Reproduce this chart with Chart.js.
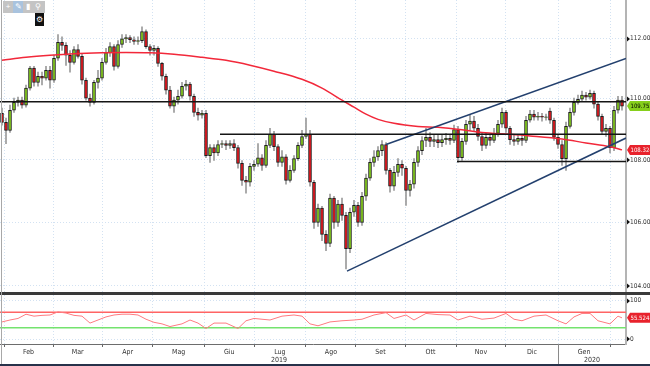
<!DOCTYPE html>
<html><head><meta charset="utf-8">
<script src="https://cdn.jsdelivr.net/npm/chart.js@4.4.1/dist/chart.umd.min.js"></script>
<style>
html,body{margin:0;padding:0;background:#fff;width:650px;height:366px;overflow:hidden;position:relative;font-family:"Liberation Sans",Arial,sans-serif}
#main{position:absolute;left:0;top:0}
#rsi{position:absolute;left:0;top:295px}
#sep{position:absolute;left:0;top:292px;width:650px;height:3px;background:#3a3a3a}
#bottom{position:absolute;left:0;top:364px;width:650px;height:2px;background:#27324a}
#leftline{position:absolute;left:1px;top:0;width:1px;height:364px;background:#a8a8a8}
#tb{position:absolute;left:3px;top:1px;width:42px;height:12px;background:#c4c4c4;display:flex}
#tb span{width:10px;height:12px;font-size:8px;line-height:12px;text-align:center;color:#fff}
#tb span.on{background:#a9c3de}
#gear{position:absolute;left:35px;top:13px;width:9px;height:13px;background:#111;color:#fff;font-size:8px;line-height:13px;text-align:center}
</style></head>
<body>
<canvas id="main" width="650" height="292"></canvas>
<div id="sep"></div>
<canvas id="rsi" width="650" height="71"></canvas>
<div id="bottom"></div>
<div id="leftline"></div>
<div id="tb"><span>+</span><span class="on">✎</span><span>▮</span><span>⚲</span></div>
<div id="gear">⚙</div>
<script>
// ---- price candles (one per index) ----
const opens = [109.52,109.22,108.96,109.62,109.88,109.95,109.79,110.35,111.01,110.54,
110.74,110.68,110.94,110.61,111.34,111.87,111.77,111.44,111.20,111.63,
111.40,110.61,110.02,109.88,110.54,110.68,111.20,111.53,111.73,111.07,
111.80,111.99,112.03,111.96,111.90,111.93,112.23,111.73,111.60,111.67,
111.17,110.74,110.28,109.75,109.95,110.08,110.41,110.48,110.08,109.55,
109.46,109.52,108.14,108.40,108.23,108.50,108.53,108.47,108.53,108.40,
107.89,107.34,107.28,107.79,107.86,108.07,107.82,108.47,108.83,108.43,
107.92,108.10,107.34,107.66,108.04,108.47,108.76,108.83,107.28,106.00,
106.45,105.62,105.33,106.77,106.00,106.58,106.22,105.17,106.32,106.54,
106.00,106.83,107.41,107.92,108.10,108.30,108.50,107.66,107.15,107.60,
107.86,107.73,107.02,107.22,107.92,108.30,108.63,108.73,108.60,108.66,
108.56,108.66,108.70,108.63,108.99,108.07,108.60,109.16,109.26,109.03,
108.76,108.47,108.73,108.63,108.86,109.16,109.55,109.03,108.66,108.60,
108.70,108.63,109.29,109.49,109.39,109.42,109.38,109.59,109.29,108.73,
108.50,108.04,109.09,109.55,109.88,109.98,110.12,110.05,110.18,109.82,
109.42,108.93,109.03,108.40,109.62,109.95];
const highs = [109.69,109.36,109.79,110.02,110.05,110.05,110.45,111.07,111.07,110.88,
110.88,111.07,111.07,111.44,112.13,112.06,111.86,111.60,111.73,111.80,
111.47,110.68,110.15,110.61,110.94,111.34,111.67,111.86,111.80,111.93,
112.13,112.13,112.10,112.06,112.06,112.39,112.29,111.80,111.77,111.73,
111.20,110.81,110.41,110.05,110.28,110.54,110.61,110.54,110.15,109.69,
109.62,109.62,108.50,108.50,108.63,108.63,108.63,108.63,108.66,108.47,
107.98,107.47,107.89,107.98,108.53,108.17,108.63,109.03,108.93,108.50,
108.30,108.17,107.82,108.14,108.56,108.96,109.36,108.96,107.34,106.58,
106.51,105.74,106.90,106.83,106.70,106.77,106.32,106.45,106.70,106.64,
106.96,107.54,108.04,108.30,108.43,108.63,108.56,107.73,107.79,108.04,
107.98,107.79,107.34,108.04,108.43,108.76,109.03,108.89,108.83,108.80,
108.80,108.86,108.83,109.13,109.09,108.70,109.29,109.46,109.42,109.16,
108.86,108.86,108.83,109.03,109.29,109.69,109.62,109.09,108.80,108.83,
108.83,109.42,109.62,109.62,109.55,109.52,109.49,109.69,109.36,108.83,
108.63,109.23,109.69,110.02,110.12,110.25,110.21,110.28,110.25,109.88,
109.49,109.16,109.09,109.75,110.08,110.08];
const lows = [109.13,108.53,108.89,109.55,109.75,109.69,109.72,110.28,110.41,110.41,
110.45,110.61,110.35,110.54,111.27,111.60,111.10,110.88,111.14,111.34,
110.48,109.95,109.75,109.82,110.35,110.61,111.14,111.40,110.94,111.01,
111.70,111.86,111.86,111.80,111.80,111.86,111.67,111.44,111.44,111.07,
110.61,110.15,109.69,109.55,109.82,110.02,110.28,109.95,109.42,109.29,
109.36,108.07,107.92,107.98,108.14,108.40,108.33,108.37,108.30,107.73,
107.18,106.93,107.15,107.66,107.79,107.66,107.76,108.40,108.30,107.79,
107.79,107.22,107.28,107.60,107.98,108.40,108.70,107.15,105.81,105.87,
105.42,105.10,105.23,105.81,105.87,106.06,104.53,105.04,106.19,105.87,
105.90,106.70,107.34,107.79,107.98,108.14,107.54,106.96,107.02,107.47,
107.50,106.54,106.83,107.09,107.79,108.17,108.43,108.43,108.43,108.40,
108.43,108.50,108.50,108.56,107.92,107.98,108.50,108.96,108.93,108.63,
108.30,108.37,108.47,108.56,108.76,109.06,108.89,108.50,108.47,108.50,
108.47,108.56,109.23,109.29,109.29,109.26,109.29,109.19,108.63,108.37,
107.82,107.66,109.03,109.46,109.82,109.92,109.95,109.98,109.69,109.29,
108.83,108.76,108.23,108.30,109.52,109.62];
const closes = [109.22,108.96,109.62,109.88,109.95,109.79,110.35,111.01,110.54,110.74,
110.68,110.94,110.61,111.34,111.87,111.77,111.44,111.20,111.63,111.40,
110.61,110.02,109.88,110.54,110.68,111.20,111.53,111.73,111.07,111.80,
111.99,112.03,111.96,111.90,111.93,112.23,111.73,111.60,111.67,111.17,
110.74,110.28,109.75,109.95,110.08,110.41,110.48,110.08,109.55,109.46,
109.52,108.14,108.40,108.23,108.50,108.53,108.47,108.53,108.40,107.89,
107.34,107.28,107.79,107.86,108.07,107.82,108.47,108.83,108.43,107.92,
108.10,107.34,107.66,108.04,108.47,108.76,108.83,107.28,106.00,106.45,
105.62,105.33,106.77,106.00,106.58,106.22,105.17,106.32,106.54,106.00,
106.83,107.41,107.92,108.10,108.30,108.50,107.66,107.15,107.60,107.86,
107.73,107.02,107.22,107.92,108.30,108.63,108.73,108.60,108.66,108.56,
108.66,108.70,108.63,108.99,108.07,108.60,109.16,109.26,109.03,108.76,
108.47,108.73,108.63,108.86,109.16,109.55,109.03,108.66,108.60,108.70,
108.63,109.29,109.49,109.39,109.42,109.39,109.40,109.29,108.73,108.50,
108.04,109.09,109.55,109.88,109.98,110.12,110.05,110.18,109.82,109.42,
108.93,109.03,108.40,109.62,109.95,109.755];

// ---- 200-period moving average, read at points ----
const maIdx  = [0,6,12,18,25,31,37,43,50,56,62,68,75,80,85,88,91,94,98,104,109,115,120,127,132,140,146,152,155];
const maVals = [111.27,111.37,111.44,111.49,111.52,111.53,111.52,111.47,111.37,111.27,111.11,110.91,110.64,110.35,109.95,109.72,109.49,109.32,109.19,109.09,109.06,108.98,108.89,108.83,108.78,108.68,108.55,108.43,108.3248];

// ---- drawn levels ----
const levelPrices = [109.90, 108.83, 107.95];
const levelStarts = [-0.5, 54.5, 113.75];
const levelEnd = 156;
const lowerChannel = [[86.25,104.46],[156,108.71]];
const upperChannel = [[96,108.50],[156,111.33]];

// ---- RSI ----
const rsiIdx  = [0,2,4,6,8,10,12,14,16,18,20,22,24,26,28,30,32,34,36,38,40,42,45,47,49,51,53,56,59,61,63,67,70,73,75,77,79,82,85,88,90,93,96,98,101,103,106,109,112,114,117,120,123,126,128,130,133,136,139,141,143,145,147,149,152,154,155];
const rsiVals = [45,50,54,65,60,62,63,71,68,62,60,42,50,58,63,65,65,63,52,44,40,33,40,50,42,28,42,42,28,48,54,50,60,63,60,40,35,45,48,50,52,63,69,54,63,50,67,64,63,50,60,52,55,67,52,48,60,63,48,40,58,67,67,48,40,60,55.5248];
const rsiLevels = [70, 30];

// ---- axis ticks / labels ----
const priceTicks = [104,106,108,110,112];
const rsiTicks = [0,100];
const monthBounds = [0.5,12.75,25.1,37.7,50.65,63,75.95,88.5,100.75,113.5,126,139,152];
const monthLabels = ['Feb','Mar','Apr','Mag','Giu','Lug','Ago','Set','Ott','Nov','Dic','Gen'];
const yearLabels = ['2019','2020'];
const yearBounds = [-0.5,139,156];

const N = closes.length;
const XMIN = -0.5, XMAX = 156;
const FONT = '"Liberation Sans Narrow","DejaVu Sans Condensed","Liberation Sans",Arial';
const GREEN = '#86cf1c', RED = '#e5161d';

function drawTag(ctx, py, bg, fg, text){
  const x0 = 627;
  ctx.save();
  ctx.fillStyle = bg;
  ctx.beginPath();
  ctx.moveTo(x0, py); ctx.lineTo(x0+3, py-5); ctx.lineTo(650, py-5);
  ctx.lineTo(650, py+5); ctx.lineTo(x0+3, py+5); ctx.closePath(); ctx.fill();
  ctx.fillStyle = fg; ctx.font = '6px ' + FONT; ctx.textBaseline = 'middle';
  ctx.fillText(text, x0+3.5, py+0.5);
  ctx.restore();
}
function drawTickMarks(chart){
  const y = chart.scales.y, ctx = chart.ctx;
  ctx.save(); ctx.fillStyle = '#111';
  y.ticks.forEach(t=>{
    const py = Math.round(y.getPixelForValue(t.value));
    ctx.beginPath(); ctx.moveTo(627, py-2.5); ctx.lineTo(630, py); ctx.lineTo(627, py+2.5); ctx.closePath(); ctx.fill();
  });
  ctx.restore();
}

const priceTags = {id:'priceTags', afterDraw(chart){
  const y = chart.scales.y;
  drawTickMarks(chart);
  drawTag(chart.ctx, y.getPixelForValue(closes[N-1]), GREEN, '#000', closes[N-1].toFixed(4));
  drawTag(chart.ctx, y.getPixelForValue(maVals[maVals.length-1]), '#e8222c', '#fff', maVals[maVals.length-1].toFixed(4));
}};

const lineDs = (pts, color, w, order, extra) => Object.assign({
  type:'line', data: pts.map(p=>({x:p[0], y:p[1]})), borderColor: color, borderWidth: w,
  pointRadius: 0, fill: false, order: order, tension: 0
}, extra||{});

const datasets = [];
levelPrices.forEach((p,k)=> datasets.push(lineDs([[levelStarts[k],p],[levelEnd,p]], '#151515', 1.5, 0)));
datasets.push(lineDs(lowerChannel, '#23406e', 1.5, 0));
datasets.push(lineDs(upperChannel, '#23406e', 1.5, 0));
datasets.push(lineDs(maIdx.map((x,k)=>[x, maVals[k]]), '#f2283a', 1.5, 1, {cubicInterpolationMode:'monotone'}));
datasets.push({type:'bar', data: closes.map((c,i)=>({x:i, y:[lows[i], highs[i]]})),
  backgroundColor:'#9a9a9a', barThickness:1, grouped:false, order:5});
datasets.push({type:'bar', data: closes.map((c,i)=>({x:i, y:[opens[i], c]})),
  backgroundColor: closes.map((c,i)=> c >= opens[i] ? GREEN : RED),
  borderColor:'#1c1c1c', borderWidth:1, borderSkipped:false, barThickness:3, grouped:false, order:4});

const gridCol = '#d3e2f2';
const tickFont = {size:6.5, family:FONT};

new Chart(document.getElementById('main'), {
  type:'bar',
  data:{datasets},
  options:{
    responsive:false, animation:false, devicePixelRatio:1,
    layout:{padding:0},
    plugins:{legend:{display:false}, tooltip:{enabled:false}},
    scales:{
      x:{type:'linear', min:XMIN, max:XMAX, offset:false,
        afterBuildTicks(s){ s.ticks = monthBounds.map(v=>({value:v})); },
        afterFit(s){ s.height = 0; },
        ticks:{display:false},
        grid:{color:gridCol, drawTicks:false, offset:false},
        border:{display:false, dash:[1,2]}},
      y:{type:'logarithmic', position:'right', min:103.81, max:113.30, beginAtZero:false,
        afterBuildTicks(s){ s.ticks = priceTicks.map(v=>({value:v})); },
        afterFit(s){ s.width = 24; s.paddingTop = 0; s.paddingBottom = 0; },
        ticks:{callback:v=>Number(v).toFixed(4), font:tickFont, color:'#333', padding:4, autoSkip:false},
        grid:{color:gridCol, drawTicks:false},
        border:{display:true, color:'#b4b4b4', width:2, dash:[1,2]}}
    }
  },
  plugins:[priceTags]
});

// ---- RSI panel ----
const rsiPlugin = {id:'rsiExtras', afterDraw(chart){
  const ctx = chart.ctx, x = chart.scales.x, y = chart.scales.y;
  const px = x.getPixelForValue(yearBounds[1]);
  ctx.save(); ctx.strokeStyle = '#8a8a8a'; ctx.lineWidth = 1;
  ctx.beginPath(); ctx.moveTo(Math.round(px)+0.5, chart.chartArea.bottom); ctx.lineTo(Math.round(px)+0.5, chart.height); ctx.stroke();
  ctx.restore();
  drawTickMarks(chart);
  drawTag(ctx, y.getPixelForValue(rsiVals[rsiVals.length-1]), '#e8222c', '#fff', rsiVals[rsiVals.length-1].toFixed(4));
}};

new Chart(document.getElementById('rsi'), {
  type:'line',
  data:{datasets:[
    lineDs([[XMIN, rsiLevels[0]],[XMAX, rsiLevels[0]]], '#ff6464', 1.5, 1),
    lineDs([[XMIN, rsiLevels[1]],[XMAX, rsiLevels[1]]], '#74e36e', 1.5, 1),
    lineDs(rsiIdx.map((x,k)=>[x, rsiVals[k]]), '#ff7a80', 1, 0)
  ]},
  options:{
    responsive:false, animation:false, devicePixelRatio:1,
    layout:{padding:0},
    plugins:{legend:{display:false}, tooltip:{enabled:false}},
    scales:{
      x:{type:'linear', min:XMIN, max:XMAX, position:'bottom', weight:0,
        afterBuildTicks(s){ s.ticks = monthBounds.map(v=>({value:v})); },
        afterFit(s){ s.height = 3; s.paddingLeft = 0; s.paddingRight = 0; },
        ticks:{display:false},
        grid:{color:gridCol, drawTicks:true, tickLength:3, tickColor:'#666'},
        border:{display:true, color:'#6d6d6d', width:1, dash:[1,2]}},
      x2:{type:'linear', min:XMIN, max:XMAX, position:'bottom', weight:1,
        afterBuildTicks(s){ s.ticks = monthLabels.map((m,k)=>({value:(monthBounds[k]+monthBounds[k+1])/2})); },
        afterFit(s){ s.height = 9; s.paddingLeft = 0; s.paddingRight = 0; },
        ticks:{callback:(v,k)=>monthLabels[k], font:{size:7, family:FONT}, color:'#333', padding:1, autoSkip:false, maxRotation:0},
        grid:{display:false, drawTicks:false}, border:{display:false}},
      x3:{type:'linear', min:XMIN, max:XMAX, position:'bottom', weight:2,
        afterBuildTicks(s){ s.ticks = yearLabels.map((m,k)=>({value:(yearBounds[k]+yearBounds[k+1])/2})); },
        afterFit(s){ s.height = 10; s.paddingLeft = 0; s.paddingRight = 0; },
        ticks:{callback:(v,k)=>yearLabels[k], font:{size:7, family:FONT}, color:'#333', padding:0, autoSkip:false, maxRotation:0},
        grid:{display:false, drawTicks:false}, border:{display:false}},
      y:{type:'linear', position:'right', min:-12.2, max:114.8,
        afterBuildTicks(s){ s.ticks = rsiTicks.map(v=>({value:v})); },
        afterFit(s){ s.width = 24; s.paddingTop = 0; s.paddingBottom = 0; },
        ticks:{callback:v=>'' + v, font:tickFont, color:'#333', padding:4, autoSkip:false},
        grid:{color:gridCol, drawTicks:false},
        border:{display:true, color:'#b4b4b4', width:2, dash:[1,2]}}
    }
  },
  plugins:[rsiPlugin]
});
</script>
</body></html>
